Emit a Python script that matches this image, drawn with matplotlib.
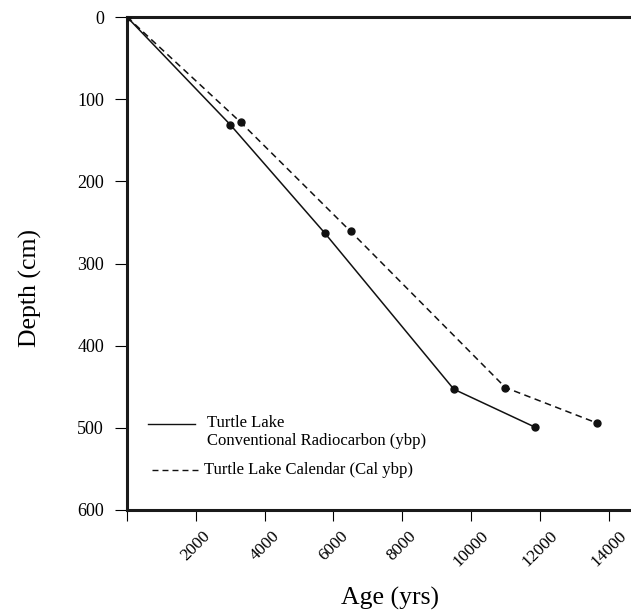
import matplotlib
matplotlib.use("Agg")
import matplotlib.pyplot as plt
from matplotlib.lines import Line2D

plt.rcParams['font.family'] = ['Liberation Serif', 'DejaVu Serif']

# Turtle Lake age-depth data
radiocarbon_age = [0, 3000, 5750, 9500, 11850]
radiocarbon_depth = [0, 131, 263, 453, 499]
calendar_age = [0, 3300, 6500, 11000, 13650]
calendar_depth = [0, 128, 261, 451, 494]

x_ticks = [0, 2000, 4000, 6000, 8000, 10000, 12000, 14000]
x_tick_labels = ['', '2000', '4000', '6000', '8000', '10000', '12000', '14000']
y_ticks = [0, 100, 200, 300, 400, 500, 600]

label_solid = "Turtle Lake\nConventional Radiocarbon (ybp)"
label_dashed = "Turtle Lake Calendar (Cal ybp)"

fig = plt.figure(figsize=(6.31, 6.12), dpi=100)
ax = fig.add_axes([127 / 631, 1 - 510 / 612, 504 / 631, 493 / 612])

ax.plot(radiocarbon_age, radiocarbon_depth, color='#111111', lw=1.1,
        marker='o', ms=5, zorder=3)
ax.plot(calendar_age, calendar_depth, color='#111111', lw=1.1,
        dashes=(4.3, 2.9), marker='o', ms=5, zorder=3)

ax.set_xlim(0, 14650)
ax.set_ylim(600, 0)

ax.set_xticks(x_ticks)
ax.set_xticklabels(x_tick_labels, rotation=45, ha='center', fontsize=12.5)
ax.set_yticks(y_ticks)
ax.tick_params(axis='y', direction='out', length=8.6, width=0.8, pad=8,
               labelsize=13)
ax.tick_params(axis='x', direction='out', length=8, width=0.8, pad=5)

for side in ['left', 'top', 'bottom']:
    ax.spines[side].set_linewidth(2.2)
    ax.spines[side].set_color('#1a1a1a')
ax.spines['right'].set_visible(False)

ax.set_xlabel('Age (yrs)', fontsize=18.5)
ax.xaxis.set_label_coords(0.522, -0.155)
ax.set_ylabel('Depth (cm)', fontsize=18.5)
ax.yaxis.set_label_coords(-0.168, 0.45)

# hand-drawn style key inside the plot
ax.add_line(Line2D([0.042, 0.135], [0.174, 0.174], transform=ax.transAxes,
                   color='#111111', lw=1.0))
ax.text(0.159, 0.192, label_solid, transform=ax.transAxes, fontsize=12,
        va='top', ha='left', linespacing=1.15)
ax.add_line(Line2D([0.050, 0.145], [0.081, 0.081], transform=ax.transAxes,
                   color='#111111', lw=1.0, dashes=(4.3, 2.9)))
ax.text(0.153, 0.081, label_dashed, transform=ax.transAxes, fontsize=12,
        va='center', ha='left')

fig.savefig('out.png', dpi=100)
